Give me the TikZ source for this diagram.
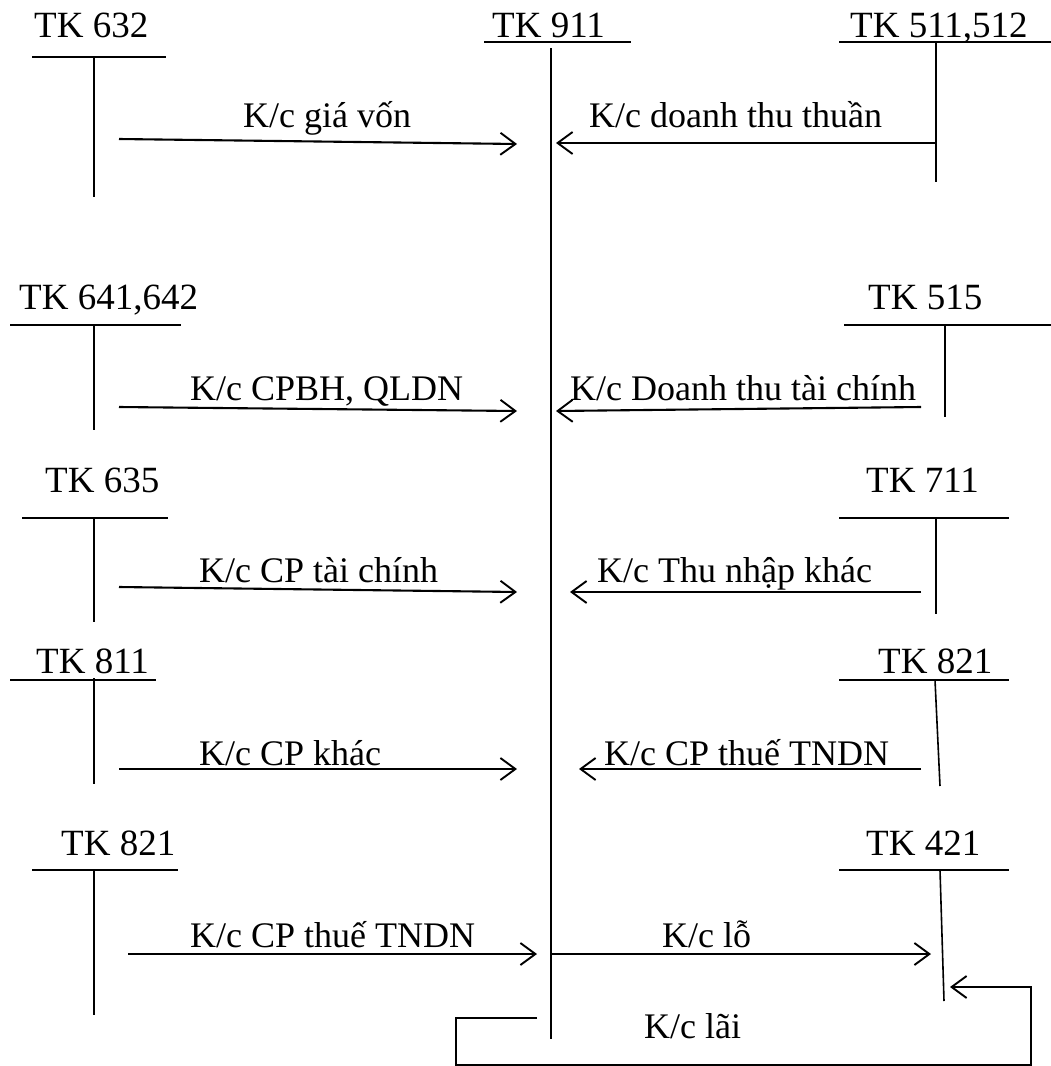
\documentclass[tikz,border=0pt]{standalone}
\usepackage{fontspec}
\setmainfont{Liberation Serif}
\usetikzlibrary{arrows.meta}
\begin{document}
\begin{tikzpicture}[x=1pt,y=-1pt,
  lbl/.style={inner sep=0pt,anchor=base west,font=\fontsize{37}{40}\selectfont},
  albl/.style={inner sep=0pt,anchor=base west,font=\fontsize{36}{40}\selectfont},
  acc/.style={line width=1.6pt},
  arr/.style={line width=2.1pt,-{Straight Barb[length=15pt,width=22pt,line width=1.9pt]}}]
\useasboundingbox (0,0) rectangle (1051,1066);
% 911 centre
\node[lbl] (t911) at (492,37) {TK 911};
\draw[acc] (484,42) -- (631,42);
\coordinate (c911a) at (551,48);
\coordinate (c911b) at (551,1039);
\draw[line width=1.4pt] (c911a) -- (c911b);
% row 1
\node[lbl] (t632) at (34,37) {TK 632};
\draw[acc] (32,57) -- (166,57);
\draw[acc] (94,57) -- (94,197);
\node[lbl] (t511) at (850,37) {TK 511,512};
\draw[acc] (839,42) -- (1051,42);
\draw[acc] (936,42) -- (936,182);
\coordinate (a1s) at (119,139); \coordinate (a1e) at (517,144);
\draw[arr] (a1s) -- (a1e);
\node[albl] (l1) at (243,127) {K/c giá vốn};
\coordinate (a2s) at (936,143); \coordinate (a2e) at (556,143);
\draw[arr] (a2s) -- (a2e);
\node[albl] (l2) at (589,127) {K/c doanh thu thuần};
% row 2
\node[lbl] (t641) at (19,309) {TK 641,642};
\draw[acc] (10,325) -- (181,325);
\draw[acc] (94,325) -- (94,430);
\node[lbl] (t515) at (868,309) {TK 515};
\draw[acc] (844,325) -- (1051,325);
\draw[acc] (945,325) -- (945,417);
\coordinate (a3s) at (119,407); \coordinate (a3e) at (517,411);
\draw[arr] (a3s) -- (a3e);
\node[albl] (l3) at (190,400) {K/c CPBH, QLDN};
\coordinate (a4s) at (921,407); \coordinate (a4e) at (556,411);
\draw[arr] (a4s) -- (a4e);
\node[albl] (l4) at (570,400) {K/c Doanh thu tài chính};
% row 3
\node[lbl] (t635) at (45,492) {TK 635};
\draw[acc] (22,518) -- (168,518);
\draw[acc] (94,518) -- (94,622);
\node[lbl] (t711) at (866,492) {TK 711};
\draw[acc] (839,518) -- (1009,518);
\draw[acc] (936,518) -- (936,614);
\coordinate (a5s) at (119,587); \coordinate (a5e) at (517,592);
\draw[arr] (a5s) -- (a5e);
\node[albl] (l5) at (199,582) {K/c CP tài chính};
\coordinate (a6s) at (921,592); \coordinate (a6e) at (570,592);
\draw[arr] (a6s) -- (a6e);
\node[albl] (l6) at (597,582) {K/c Thu nhập khác};
% row 4
\node[lbl] (t811) at (36,673) {TK 811};
\draw[acc] (10,680) -- (156,680);
\draw[acc] (94,678) -- (94,784);
\node[lbl] (t821r) at (878,673) {TK 821};
\draw[acc] (839,680) -- (1009,680);
\draw[acc] (935,680) -- (940,786);
\coordinate (a7s) at (119,769); \coordinate (a7e) at (517,769);
\draw[arr] (a7s) -- (a7e);
\node[albl] (l7) at (199,765) {K/c CP khác};
\coordinate (a8s) at (921,769); \coordinate (a8e) at (579,769);
\draw[arr] (a8s) -- (a8e);
\node[albl] (l8) at (604,765) {K/c CP thuế TNDN};
% row 5
\node[lbl] (t821l) at (61,855) {TK 821};
\draw[acc] (32,870) -- (178,870);
\draw[acc] (94,870) -- (94,1015);
\node[lbl] (t421) at (866,855) {TK 421};
\draw[acc] (839,870) -- (1009,870);
\draw[acc] (940,870) -- (944,1001);
\coordinate (a9s) at (128,954); \coordinate (a9e) at (537,954);
\draw[arr] (a9s) -- (a9e);
\node[albl] (l9) at (190,947) {K/c CP thuế TNDN};
\coordinate (a10s) at (552,954); \coordinate (a10e) at (931,954);
\draw[arr] (a10s) -- (a10e);
\node[albl] (l10) at (662,947) {K/c lỗ};
% K/c lai loop
\coordinate (b1) at (537,1018);
\coordinate (b2) at (456,1018);
\coordinate (b3) at (456,1065);
\coordinate (b4) at (1031,1065);
\coordinate (b5) at (1031,987);
\coordinate (b6) at (950,987);
\draw[arr,line width=1.8pt] (b1) -- (b2) -- (b3) -- (b4) -- (b5) -- (b6);
\node[albl] (l11) at (644,1038) {K/c lãi};
\end{tikzpicture}
\end{document}
